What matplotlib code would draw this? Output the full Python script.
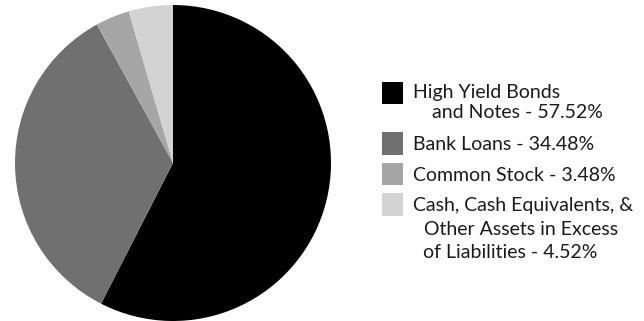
import matplotlib
matplotlib.use("Agg")
import matplotlib.pyplot as plt
from matplotlib.patches import Rectangle

labels = ["High Yield Bonds\nand Notes - 57.52%", "Bank Loans - 34.48%",
          "Common Stock - 3.48%",
          "Cash, Cash Equivalents, &\nOther Assets in Excess\nof Liabilities - 4.52%"]
values = [57.52, 34.48, 3.48, 4.52]
colors = ["#000000", "#707070", "#a6a6a6", "#d3d3d3"]

W, H = 644, 321
fig = plt.figure(figsize=(W/100, H/100), dpi=100)
fig.patch.set_facecolor("white")

cx, cy, r = 173, 163, 158
ax = fig.add_axes([(cx-r)/W, 1-(cy+r)/H, 2*r/W, 2*r/H])
ax.pie(values, colors=colors, startangle=90, counterclock=False,
       radius=1, wedgeprops=dict(linewidth=0))
ax.set_xlim(-1, 1); ax.set_ylim(-1, 1)
ax.set_aspect("equal")
ax.axis("off")

def fx(x): return x / W
def fy(y): return 1 - y / H

font = dict(family=["Lato", "DejaVu Sans"], fontsize=14, color="#1a1a1a")
# legend squares (top y, bottom y)
squares = [(82, 104), (132, 155), (163, 185), (193, 216)]
indents = [[413, 432], [413], [413], [413, 424, 423]]
baselines = [[98, 118], [150], [181], [211, 235, 258]]
for i, lab in enumerate(labels):
    y0, y1 = squares[i]
    fig.patches.append(Rectangle((fx(382), fy(y1)), fx(403)-fx(382), fy(y0)-fy(y1),
                                 transform=fig.transFigure, facecolor=colors[i],
                                 edgecolor="none"))
    for line, x, yb in zip(lab.split("\n"), indents[i], baselines[i]):
        fig.text(fx(x), fy(yb), line, va="baseline", ha="left", **font)

fig.savefig("out.png", dpi=100)
